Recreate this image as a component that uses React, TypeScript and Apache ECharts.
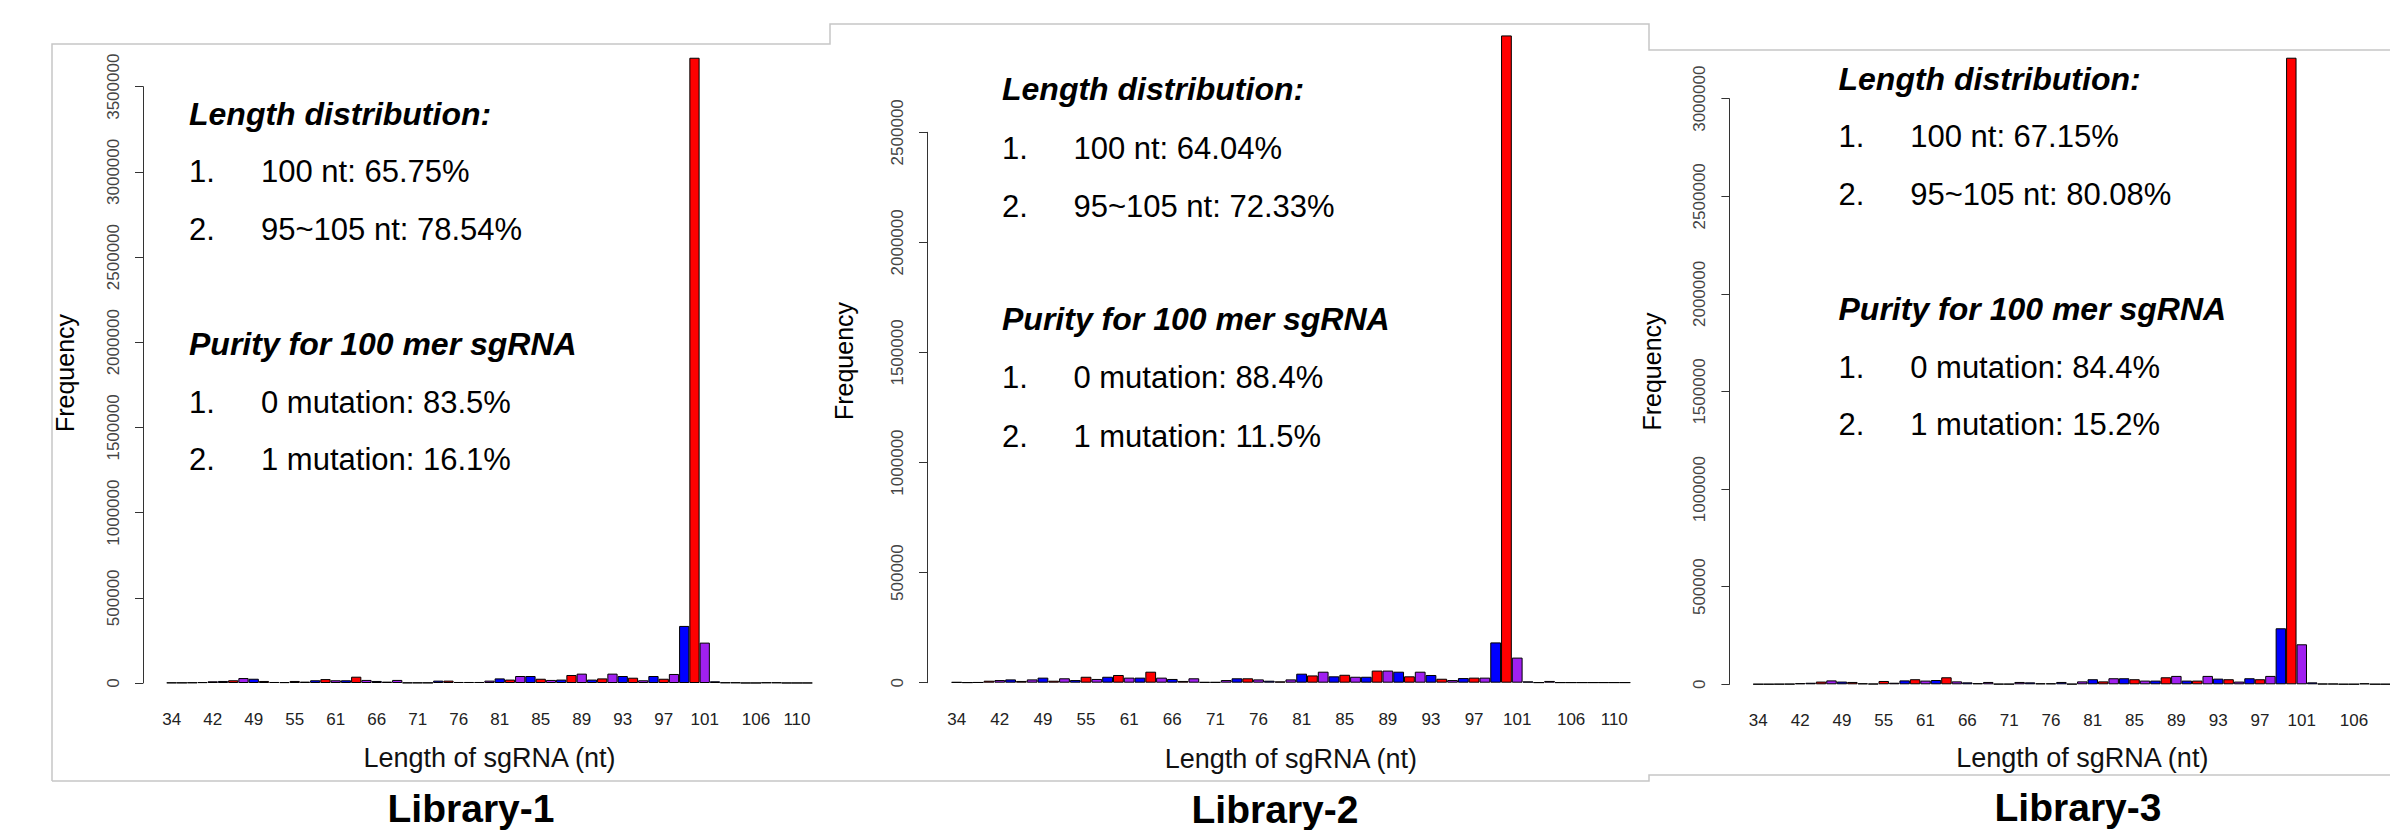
import React, { useEffect, useRef } from 'react';
import * as echarts from 'echarts';

// ---- data ----
const lengths = [
  '34', '36', '38', '40', '42', '44', '46', '47', '49', '50', '52', '53', '55', '57', '58', '60',
  '61', '62', '63', '64', '66', '67', '68', '69', '71', '72', '73', '74', '76', '77', '78', '79',
  '81', '82', '83', '84', '85', '86', '87', '88', '89', '90', '91', '92', '93', '94', '95', '96',
  '97', '98', '99', '100', '101', '102', '103', '104', '105', '106', '107', '108', '109', '110', '111',
];
const tickLabels = ['34', '42', '49', '55', '61', '66', '71', '76', '81', '85', '89', '93', '97', '101', '106', '110'];
const tickLabelsLib3 = ['34', '42', '49', '55', '61', '66', '71', '76', '81', '85', '89', '93', '97', '101', '106'];

const lib1Counts = [
  2000, 2000, 3000, 5000, 10000, 12000, 16000, 29000, 25000, 12000, 6000, 5000, 12000, 8000, 16000, 23000,
  16000, 16000, 37000, 18000, 12000, 8000, 18000, 2000, 2000, 2000, 14000, 14000, 6000, 6000, 6000, 14000,
  27000, 20000, 41000, 41000, 25000, 18000, 20000, 47000, 55000, 20000, 27000, 55000, 41000, 31000, 16000, 41000,
  25000, 53000, 335000, 3670000, 237000, 10000, 3000, 3000, 500, 500, 3000, 3000, 500, 500, 500,
];
const lib2Counts = [
  3000, 1000, 2000, 9000, 12000, 15000, 8000, 15000, 23000, 9000, 20000, 12000, 27000, 17000, 27000, 35000,
  23000, 23000, 50000, 23000, 17000, 8000, 20000, 3000, 3000, 12000, 20000, 20000, 15000, 9000, 6000, 15000,
  41000, 33000, 50000, 29000, 36000, 27000, 27000, 55000, 55000, 50000, 29000, 50000, 35000, 18000, 12000, 21000,
  23000, 23000, 183000, 2940000, 114000, 6000, 1000, 8000, 1000, 1000, 1000, 1000, 1000, 1000, 1000,
];
const lib3Counts = [
  1000, 1000, 1500, 2000, 6000, 8000, 14000, 20000, 14000, 12000, 5000, 3000, 17000, 8000, 20000, 26000,
  19000, 22000, 36000, 15000, 10000, 6000, 12000, 2000, 2000, 12000, 10000, 5000, 5000, 12000, 2000, 15000,
  26000, 15000, 31000, 31000, 26000, 19000, 19000, 36000, 43000, 19000, 19000, 43000, 29000, 26000, 14000, 31000,
  26000, 43000, 287000, 3210000, 205000, 10000, 3000, 3000, 1000, 1000, 5000, 1000, 1000, 1000, 1000,
];

const libTitles = ['Library-1', 'Library-2', 'Library-3'];
const lengthStats1 = ['100 nt: 65.75%', '95~105 nt: 78.54%'];
const lengthStats2 = ['100 nt: 64.04%', '95~105 nt: 72.33%'];
const lengthStats3 = ['100 nt: 67.15%', '95~105 nt: 80.08%'];
const purity1 = ['0 mutation: 83.5%', '1 mutation: 16.1%'];
const purity2 = ['0 mutation: 88.4%', '1 mutation: 11.5%'];
const purity3 = ['0 mutation: 84.4%', '1 mutation: 15.2%'];
const yMaxTicks = [3500000, 2500000, 3000000];

const barColors = ['#FF0000', '#A020F0', '#0000FF'];
const FONT = '"Liberation Sans", Arial, Helvetica, sans-serif';

// ---- layout ----
const layouts = [
  {
    grid: { left: 166.6, top: 86.7, width: 645.75, height: 596.3 }, axisOffset: 23.6, nameGap: 61,
    noteX: 189, noteX2: 261, noteY: [114, 171, 229.3, 344, 402.3, 459.3],
    freq: [65, 373], title: [471, 808.2], ticks: tickLabels,
  },
  {
    grid: { left: 951.3, top: 132.3, width: 679.1, height: 550.4 }, axisOffset: 24.3, nameGap: 63,
    noteX: 1002, noteX2: 1073.4, noteY: [89, 148.6, 206, 319, 377.3, 436],
    freq: [844, 361], title: [1275, 809.5], ticks: tickLabels,
  },
  {
    grid: { left: 1753.1, top: 98.7, width: 658.4, height: 585.6 }, axisOffset: 23.7, nameGap: 60,
    noteX: 1838.5, noteX2: 1910.2, noteY: [79, 136.6, 194.3, 309, 367.6, 424.3],
    freq: [1652, 371.5], title: [2078, 807], ticks: tickLabelsLib3,
  },
];

const countsList = [lib1Counts, lib2Counts, lib3Counts];
const statsList = [lengthStats1, lengthStats2, lengthStats3];
const purityList = [purity1, purity2, purity3];

function txt(x: number, y: number, text: string, size: number, opts: any = {}) {
  const align = opts.align || 'left';
  return {
    type: 'text',
    x,
    y,
    rotation: opts.rotation || 0,
    z: 10,
    style: {
      text,
      fill: opts.fill || '#000',
      fontSize: size,
      fontFamily: FONT,
      fontWeight: opts.bold ? 'bold' : 'normal',
      fontStyle: opts.italic ? 'italic' : 'normal',
      align,
      textAlign: align,
      verticalAlign: 'middle',
      textVerticalAlign: 'middle',
    },
  };
}

function buildOption() {
  const graphic: any[] = [
    {
      type: 'polyline',
      z: 1,
      shape: { points: [[52, 781], [52, 44], [830, 44], [830, 24], [1649, 24], [1649, 50], [2440, 50]] },
      style: { stroke: '#c6c6c6', lineWidth: 1.5, fill: null },
    },
    {
      type: 'polyline',
      z: 1,
      shape: { points: [[52, 781], [1649, 781], [1649, 775], [2440, 775]] },
      style: { stroke: '#c6c6c6', lineWidth: 1.5, fill: null },
    },
  ];

  layouts.forEach((L, i) => {
    const ys = L.noteY;
    graphic.push(txt(L.noteX, ys[0], 'Length distribution:', 32, { bold: true, italic: true }));
    graphic.push(txt(L.noteX, ys[1], '1.', 31));
    graphic.push(txt(L.noteX2, ys[1], statsList[i][0], 31));
    graphic.push(txt(L.noteX, ys[2], '2.', 31));
    graphic.push(txt(L.noteX2, ys[2], statsList[i][1], 31));
    graphic.push(txt(L.noteX, ys[3], 'Purity for 100 mer sgRNA', 32, { bold: true, italic: true }));
    graphic.push(txt(L.noteX, ys[4], '1.', 31));
    graphic.push(txt(L.noteX2, ys[4], purityList[i][0], 31));
    graphic.push(txt(L.noteX, ys[5], '2.', 31));
    graphic.push(txt(L.noteX2, ys[5], purityList[i][1], 31));
    graphic.push(txt(L.freq[0], L.freq[1], 'Frequency', 25, { align: 'center', rotation: Math.PI / 2 }));
    graphic.push(txt(L.title[0], L.title[1], libTitles[i], 39, { align: 'center', bold: true }));
  });

  return {
    animation: false,
    backgroundColor: '#ffffff',
    color: barColors,
    grid: layouts.map((L) => ({ ...L.grid, containLabel: false })),
    xAxis: layouts.map((L, i) => ({
      type: 'category',
      gridIndex: i,
      data: lengths,
      boundaryGap: true,
      axisLine: { show: false },
      axisTick: { show: false },
      splitLine: { show: false },
      axisLabel: {
        interval: (_idx: number, val: string) => L.ticks.includes(val),
        fontSize: 17,
        fontFamily: FONT,
        color: '#222',
        margin: 28,
      },
      name: 'Length of sgRNA (nt)',
      nameLocation: 'middle',
      nameGap: L.nameGap,
      nameTextStyle: { fontSize: 27, fontFamily: FONT, color: '#111' },
    })),
    yAxis: layouts.map((L, i) => ({
      type: 'value',
      gridIndex: i,
      min: 0,
      max: yMaxTicks[i],
      interval: 500000,
      offset: L.axisOffset,
      axisLine: { show: true, lineStyle: { color: '#333', width: 1 } },
      axisTick: { show: true, length: 8, lineStyle: { color: '#333', width: 1 } },
      splitLine: { show: false },
      axisLabel: {
        rotate: 90,
        fontSize: 17,
        fontFamily: FONT,
        color: '#444',
        margin: 21,
        formatter: (v: number) => String(v),
      },
    })),
    series: layouts.map((_L, i) => ({
      type: 'bar',
      xAxisIndex: i,
      yAxisIndex: i,
      data: countsList[i],
      barWidth: '100%',
      barCategoryGap: '0%',
      clip: false,
      itemStyle: {
        color: (p: any) => barColors[p.dataIndex % 3],
        borderColor: '#000',
        borderWidth: 1,
      },
    })),
    graphic,
  };
}

export default function App() {
  const ref = useRef<HTMLDivElement>(null);
  useEffect(() => {
    if (!ref.current) return;
    document.body.style.margin = '0';
    document.body.style.overflow = 'hidden';
    const chart = echarts.init(ref.current, null, { renderer: 'svg' });
    chart.setOption(buildOption() as any);
    return () => chart.dispose();
  }, []);
  return (
    <div
      style={{ position: 'absolute', left: 0, top: 0, width: 2390, height: 830, overflow: 'hidden', background: '#fff' }}
    >
      <div ref={ref} style={{ position: 'absolute', left: 0, top: 0, width: 2440, height: 830 }} />
    </div>
  );
}
